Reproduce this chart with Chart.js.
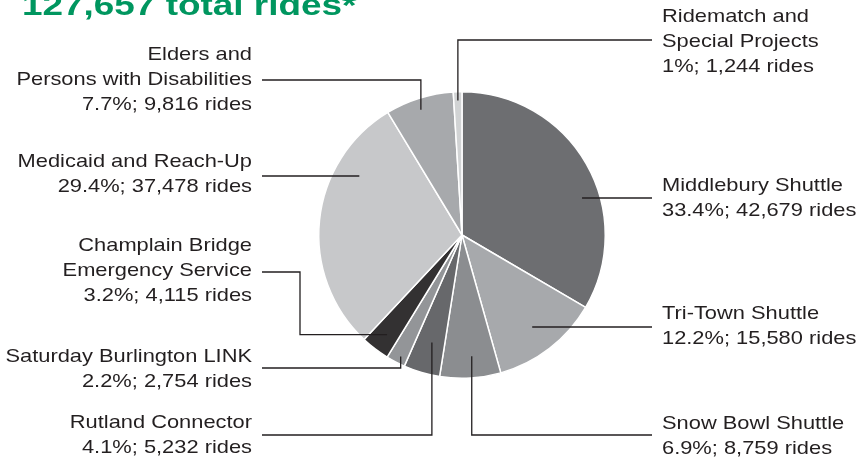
<!DOCTYPE html>
<html>
<head>
<meta charset="utf-8">
<script src="https://cdn.jsdelivr.net/npm/chart.js@4.4.1/dist/chart.umd.min.js"></script>
<style>
    html, body { margin: 0; padding: 0; background: #ffffff; }
    #wrap { position: relative; width: 863px; height: 460px; }
</style>
</head>
<body>
<div id="wrap"><canvas id="ridesChart"></canvas></div>
<script>
// Data
const titleText = '127,657 total rides*';
const categories = [
    'Middlebury Shuttle', 'Tri-Town Shuttle', 'Snow Bowl Shuttle', 'Rutland Connector',
    'Saturday Burlington LINK', 'Champlain Bridge Emergency Service', 'Medicaid and Reach-Up',
    'Elders and Persons with Disabilities', 'Ridematch and Special Projects'
];
const categoryLines = [
    ['Middlebury Shuttle'], ['Tri-Town Shuttle'], ['Snow Bowl Shuttle'], ['Rutland Connector'],
    ['Saturday Burlington LINK'], ['Champlain Bridge', 'Emergency Service'], ['Medicaid and Reach-Up'],
    ['Elders and', 'Persons with Disabilities'], ['Ridematch and', 'Special Projects']
];
const rides = [42679, 15580, 8759, 5232, 2754, 4115, 37478, 9816, 1244];
const percents = ['33.4%', '12.2%', '6.9%', '4.1%', '2.2%', '3.2%', '29.4%', '7.7%', '1%'];
const sliceColors = [
    '#6d6e71', '#a7a9ac', '#8b8d90', '#67686b',
    '#939598', '#333132', '#c7c8ca', '#a7a9ac', '#d1d3d4'
];

// Label placement (layout only): text position, leader line height, anchor inside slice
// t = fraction across the slice angle, rf = fraction of the radius
const labelLayout = [
    { x: 662, y: 191, align: 'left', lineY: 198, t: 0.60, rf: 0.88, route: 'straight' },
    { x: 662, y: 319, align: 'left', lineY: 327, t: 0.51, rf: 0.81, route: 'straight' },
    { x: 662, y: 429, align: 'left', lineY: 435, t: 0.45, rf: 0.85, route: 'elbow' },
    { x: 252, y: 428, align: 'right', lineY: 435, t: 0.45, rf: 0.78, route: 'elbow' },
    { x: 252, y: 362, align: 'right', lineY: 368, t: 0.39, rf: 0.95, route: 'elbow' },
    { x: 252, y: 251, align: 'right', lineY: 272, t: 0.47, rf: 0.87, route: 'z', bendX: 300 },
    { x: 252, y: 167, align: 'right', lineY: 176, t: 0.73, rf: 0.83, route: 'straight' },
    { x: 252, y: 60, align: 'right', lineY: 80, t: 0.47, rf: 0.92, route: 'elbow' },
    { x: 662, y: 22, align: 'left', lineY: 40, t: 0.5, rf: 0.94, route: 'elbow' }
];

const textColor = '#231f20';
const textFont = '19px "Liberation Sans", Arial, sans-serif';
const lineGap = 25;

// lettering in the original is wider than Arial
function drawStretched(ctx, str, x, y, align, font, color, sx) {
    ctx.save();
    ctx.translate(x, y);
    ctx.scale(sx, 1);
    ctx.font = font;
    ctx.fillStyle = color;
    ctx.textAlign = align;
    ctx.textBaseline = 'alphabetic';
    ctx.fillText(str, 0, 0);
    ctx.restore();
}

const labelPlugin = {
    id: 'leaderLabels',
    afterDraw(chart) {
        const ctx = chart.ctx;
        const arcs = chart.getDatasetMeta(0).data;

        // title, cut off at the top edge
        drawStretched(ctx, titleText, 22, 15, 'left', 'bold 30px "Liberation Sans", Arial, sans-serif', '#00965f', 1.23);

        arcs.forEach(function (arc, i) {
            const lay = labelLayout[i];
            const p = arc.getProps(['x', 'y', 'startAngle', 'endAngle', 'outerRadius'], true);
            const ang = p.startAngle + (p.endAngle - p.startAngle) * lay.t;
            const ax = p.x + Math.cos(ang) * p.outerRadius * lay.rf;
            const ay = p.y + Math.sin(ang) * p.outerRadius * lay.rf;

            // text
            const lines = categoryLines[i].concat([percents[i] + '; ' + rides[i].toLocaleString('en-US') + ' rides']);
            lines.forEach(function (line, k) {
                drawStretched(ctx, line, lay.x, lay.y + k * lineGap, lay.align, textFont, textColor, 1.15);
            });

            // leader line
            const startX = lay.align === 'left' ? lay.x - 10 : lay.x + 10;
            ctx.save();
            ctx.strokeStyle = textColor;
            ctx.lineWidth = 1.3;
            ctx.beginPath();
            ctx.moveTo(startX, lay.lineY);
            if (lay.route === 'straight') {
                ctx.lineTo(ax, lay.lineY);
            } else if (lay.route === 'elbow') {
                ctx.lineTo(ax, lay.lineY);
                ctx.lineTo(ax, ay);
            } else {
                ctx.lineTo(lay.bendX, lay.lineY);
                ctx.lineTo(lay.bendX, ay);
                ctx.lineTo(ax, ay);
            }
            ctx.stroke();
            ctx.restore();
        });
    }
};

document.addEventListener('DOMContentLoaded', function () {
    const ctxRides = document.getElementById('ridesChart');
    if (!ctxRides) {
        console.error("Canvas 'ridesChart' not found.");
        return;
    }

    new Chart(ctxRides.getContext('2d'), {
        type: 'pie',
        data: {
            labels: categories,
            datasets: [{
                data: rides,
                backgroundColor: sliceColors,
                borderColor: '#ffffff',
                borderWidth: 1.5
            }]
        },
        options: {
            responsive: true,
            maintainAspectRatio: false,
            animation: false,
            layout: {
                padding: { top: 91, bottom: 81, left: 318, right: 257 }
            },
            plugins: {
                legend: { display: false },
                tooltip: { enabled: false },
                title: { display: false }
            }
        },
        plugins: [labelPlugin]
    });
});
</script>
</body>
</html>
